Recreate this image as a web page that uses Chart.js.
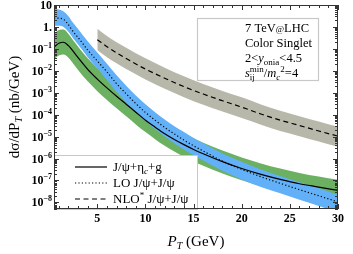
<!DOCTYPE html>
<html>
<head>
<meta charset="utf-8">
<script src="https://cdn.jsdelivr.net/npm/chart.js@4.4.1/dist/chart.umd.min.js"></script>
<style>
  html, body { margin: 0; padding: 0; background: #fff; overflow: hidden; }
  canvas { display: block; }
</style>
</head>
<body>
<canvas id="c" width="353" height="254"></canvas>
<script>
// P_T grid for the J/psi+eta_c+g and LO J/psi+J/psi curves
const ptLow = [0.5, 1, 1.5, 2, 2.5, 3, 4, 5, 6, 7, 8, 9, 10, 11, 12, 13, 14, 15, 16, 18, 20, 22, 24, 26, 28, 30];

// J/psi + eta_c + g (solid, green band)
const etacMid = [0.12, 0.18, 0.20, 0.14, 0.076, 0.040, 0.0117, 4.2e-3, 1.66e-3, 6.9e-4, 3.0e-4, 1.29e-4, 5.6e-5, 2.7e-5, 1.35e-5, 7.4e-6, 4.3e-6, 2.6e-6, 1.66e-6, 7.2e-7, 3.5e-7, 1.9e-7, 1.12e-7, 7.1e-8, 5.0e-8, 3.5e-8];
const etacUp  = [0.48, 0.72, 0.76, 0.47, 0.24, 0.126, 0.037, 0.0135, 5.5e-3, 2.3e-3, 1.0e-3, 4.3e-4, 1.86e-4, 8.9e-5, 4.5e-5, 2.4e-5, 1.38e-5, 8.3e-6, 5.2e-6, 2.3e-6, 1.12e-6, 6.0e-7, 3.5e-7, 2.2e-7, 1.5e-7, 1.07e-7];
const etacLow = [0.034, 0.050, 0.055, 0.039, 0.021, 0.011, 3.3e-3, 1.17e-3, 4.7e-4, 1.95e-4, 8.5e-5, 3.6e-5, 1.6e-5, 7.6e-6, 3.8e-6, 2.1e-6, 1.2e-6, 7.4e-7, 4.7e-7, 2.1e-7, 1.02e-7, 5.5e-8, 3.2e-8, 2.0e-8, 1.45e-8, 1.02e-8];

// LO J/psi + J/psi (dotted, blue band)
const loMid = [2.5, 2.5, 2.2, 1.26, 0.60, 0.33, 0.089, 0.028, 8.9e-3, 2.6e-3, 8.9e-4, 3.2e-4, 1.26e-4, 5.6e-5, 2.6e-5, 1.32e-5, 6.9e-6, 3.8e-6, 2.2e-6, 7.6e-7, 3.2e-7, 1.48e-7, 7.4e-8, 3.8e-8, 2.0e-8, 1.05e-8];
const loUp  = [6.8, 6.3, 5.0, 3.1, 1.5, 0.81, 0.22, 0.068, 0.021, 6.3e-3, 2.1e-3, 7.4e-4, 3.0e-4, 1.3e-4, 6.0e-5, 3.0e-5, 1.6e-5, 8.7e-6, 5.0e-6, 1.7e-6, 7.1e-7, 3.2e-7, 1.6e-7, 8.3e-8, 4.4e-8, 2.2e-8];
const loLow = [1.12, 1.12, 1.0, 0.60, 0.30, 0.158, 0.042, 0.0126, 3.8e-3, 1.07e-3, 3.6e-4, 1.26e-4, 5.0e-5, 2.2e-5, 1.02e-5, 5.0e-6, 2.6e-6, 1.41e-6, 8.1e-7, 2.8e-7, 1.12e-7, 5.1e-8, 2.6e-8, 1.32e-8, 6.9e-9, 3.5e-9];

// NLO* J/psi + J/psi (dashed, grey band), starts at P_T = 5
const ptNlo = [5, 6, 7, 8, 10, 12, 14, 16, 18, 20, 22, 24, 26, 28, 30];
const nloMid = [0.26, 0.126, 0.066, 0.036, 0.012, 4.6e-3, 1.9e-3, 8.7e-4, 4.3e-4, 2.2e-4, 1.07e-4, 5.6e-5, 3.2e-5, 1.8e-5, 1.05e-5];
const nloUp  = [0.83, 0.39, 0.20, 0.112, 0.037, 0.0138, 5.6e-3, 2.5e-3, 1.2e-3, 6.2e-4, 2.9e-4, 1.5e-4, 8.5e-5, 4.9e-5, 2.8e-5];
const nloLow = [0.087, 0.042, 0.022, 0.012, 4.0e-3, 1.5e-3, 6.2e-4, 2.8e-4, 1.38e-4, 7.1e-5, 3.5e-5, 1.8e-5, 1.05e-5, 5.9e-6, 3.4e-6];

// axis ticks
const xTicks = [5, 10, 15, 20, 25, 30];
const yTicks = [10, 1, 1e-1, 1e-2, 1e-3, 1e-4, 1e-5, 1e-6, 1e-7, 1e-8];
const yTickBase = ['10', '1.', '10', '10', '10', '10', '10', '10', '10', '10'];
const yTickExp = ['', '', '−1', '−2', '−3', '−4', '−5', '−6', '−7', '−8'];

const GREEN = 'rgb(108,176,98)';
const BLUE = 'rgb(98,176,248)';
const GREY = 'rgb(184,184,170)';
const SERIF = '"Liberation Serif", "Times New Roman", serif';
const DOTS = [1.2, 2.2];
const DASH = [5, 3.5];

const pts = (xs, ys) => xs.map((x, i) => ({ x: x, y: ys[i] }));

function band(xs, ys, order) {
  return { data: pts(xs, ys), borderWidth: 0, pointRadius: 0, fill: false, order: order,
           cubicInterpolationMode: 'monotone' };
}
function bandLow(xs, ys, target, color, order) {
  return { data: pts(xs, ys), borderWidth: 0, pointRadius: 0, fill: target,
           backgroundColor: color, order: order, cubicInterpolationMode: 'monotone' };
}
function curve(xs, ys, dash) {
  return { data: pts(xs, ys), borderColor: '#000', borderWidth: 1.2, borderDash: dash,
           pointRadius: 0, fill: false, order: 1, cubicInterpolationMode: 'monotone' };
}

// draw text pieces [text, font, dy] one after the other
function rich(ctx, x, y, parts, align) {
  let w = 0;
  parts.forEach(p => { ctx.font = p[1]; w += ctx.measureText(p[0]).width; });
  let cx = align === 'center' ? x - w / 2 : align === 'right' ? x - w : x;
  parts.forEach(p => {
    ctx.font = p[1];
    ctx.fillText(p[0], cx, y + (p[2] || 0));
    cx += ctx.measureText(p[0]).width;
  });
}

const decorations = {
  id: 'decorations',
  afterDatasetsDraw(chart) {
    const { ctx, chartArea: a, scales: { x, y } } = chart;
    ctx.save();
    ctx.textAlign = 'left';
    ctx.textBaseline = 'alphabetic';
    ctx.fillStyle = '#000';

    // legend box
    const lx0 = a.left, lx1 = 197, ly0 = 155, ly1 = a.bottom;
    ctx.fillStyle = '#fff';
    ctx.fillRect(lx0, ly0, lx1 - lx0, ly1 - ly0);
    ctx.strokeStyle = '#c8c8c8';
    ctx.lineWidth = 1;
    ctx.strokeRect(lx0 + 0.5, ly0 + 0.5, lx1 - lx0, ly1 - ly0);
    const rows = [167, 183, 199];
    const dashes = [[], DOTS, DASH];
    ctx.strokeStyle = '#000';
    ctx.lineWidth = 1.2;
    rows.forEach((ry, i) => {
      ctx.setLineDash(dashes[i]);
      ctx.beginPath(); ctx.moveTo(75, ry); ctx.lineTo(107, ry); ctx.stroke();
    });
    ctx.setLineDash([]);
    ctx.fillStyle = '#000';
    const f13 = '13px ' + SERIF, f9 = '9px ' + SERIF, fi9 = 'italic 9px ' + SERIF;
    rich(ctx, 113, rows[0] + 4, [['J/ψ+η', f13], ['c', fi9, 3], ['+g', f13]]);
    rich(ctx, 113, rows[1] + 4, [['LO J/ψ+J/ψ', f13]]);
    rich(ctx, 113, rows[2] + 4, [['NLO', f13], ['*', f9, -5], [' J/ψ+J/ψ', f13]]);

    // info box
    ctx.fillStyle = '#fff';
    ctx.fillRect(197, 18, 121, 62);
    ctx.strokeStyle = '#c8c8c8';
    ctx.strokeRect(197.5, 18.5, 121, 62);
    ctx.fillStyle = '#000';
    const f12 = '12.5px ' + SERIF, fi12 = 'italic 12.5px ' + SERIF;
    const tx = 245;
    rich(ctx, tx, 32, [['7 TeV', f12], ['@', '9px ' + SERIF], ['LHC', f12]]);
    rich(ctx, tx, 47, [['Color Singlet', f12]]);
    rich(ctx, tx, 62, [['2<', f12], ['y', fi12], ['onia', f9, 3], ['<4.5', f12]]);
    ctx.font = fi12;
    ctx.fillText('s', tx, 77);
    let sx = tx + ctx.measureText('s').width;
    ctx.font = f9;
    ctx.fillText('min', sx, 72);
    ctx.fillText('ij', sx, 80);
    sx += ctx.measureText('min').width;
    rich(ctx, sx, 77, [['/', f12], ['m', fi12], ['c', fi9, 3], ['2', f9, -5], ['=4', f12]]);

    // frame and inward ticks on all sides
    ctx.strokeStyle = '#333';
    ctx.lineWidth = 1;
    ctx.strokeRect(a.left + 0.5, a.top + 0.5, a.right - a.left - 1, a.bottom - a.top - 1);
    ctx.beginPath();
    for (let v = 1; v <= 30; v++) {
      const px = Math.round(x.getPixelForValue(v)) + 0.5;
      const len = v % 5 === 0 ? 5 : 3;
      ctx.moveTo(px, a.bottom); ctx.lineTo(px, a.bottom - len);
      ctx.moveTo(px, a.top); ctx.lineTo(px, a.top + len);
    }
    for (let e = -9; e <= 1; e++) {
      for (let m = 1; m <= 9; m++) {
        const v = m * Math.pow(10, e);
        if (v < y.min || v > y.max) continue;
        const py = Math.round(y.getPixelForValue(v)) + 0.5;
        const len = m === 1 ? 5 : 3;
        ctx.moveTo(a.left, py); ctx.lineTo(a.left + len, py);
        ctx.moveTo(a.right, py); ctx.lineTo(a.right - len, py);
      }
    }
    ctx.stroke();

    // y tick labels with raised exponents, placed by the log scale
    const fb12 = 'bold 12px ' + SERIF, fb8 = 'bold 8px ' + SERIF;
    yTicks.forEach((v, i) => {
      const py = y.getPixelForValue(v) + 4;
      const parts = [[yTickBase[i], fb12]];
      if (yTickExp[i]) parts.push([yTickExp[i], fb8, -5]);
      rich(ctx, a.left - 2, py, parts, 'right');
    });

    // axis titles
    const f15 = '15px ' + SERIF, fi15 = 'italic 15px ' + SERIF, fi10 = 'italic 10px ' + SERIF;
    rich(ctx, (a.left + a.right) / 2, 246, [['P', fi15], ['T', fi10, 3], [' (GeV)', f15]], 'center');
    ctx.translate(14, (a.top + a.bottom) / 2);
    ctx.rotate(-Math.PI / 2);
    rich(ctx, 0, 5, [['dσ/dP', f15], ['T', fi10, 3], [' (nb/GeV)', f15]], 'center');
    ctx.restore();
  }
};

new Chart(document.getElementById('c'), {
  type: 'line',
  data: {
    datasets: [
      band(ptLow, etacUp, 5),
      bandLow(ptLow, etacLow, 0, GREEN, 5),
      band(ptLow, loUp, 4),
      bandLow(ptLow, loLow, 2, BLUE, 4),
      band(ptNlo, nloUp, 4),
      bandLow(ptNlo, nloLow, 4, GREY, 4),
      curve(ptLow, etacMid, []),
      curve(ptLow, loMid, DOTS),
      curve(ptNlo, nloMid, DASH)
    ]
  },
  options: {
    responsive: false,
    animation: false,
    devicePixelRatio: 1,
    layout: { padding: { left: 0, right: 15, top: 5, bottom: 0 } },
    plugins: { legend: { display: false }, tooltip: { enabled: false } },
    scales: {
      x: {
        type: 'linear', min: 0.5, max: 30,
        afterBuildTicks: s => { s.ticks = xTicks.map(v => ({ value: v })); },
        afterFit: s => { s.height = 45; s.paddingLeft = 0; s.paddingRight = 0; },
        grid: { display: false, drawTicks: false },
        border: { display: false },
        ticks: { color: '#000', padding: 3, maxRotation: 0, autoSkip: false,
                 font: { family: SERIF, size: 12, weight: 'bold' } }
      },
      y: {
        type: 'logarithmic', min: 5e-9, max: 10,
        afterBuildTicks: s => { s.ticks = yTicks.map(v => ({ value: v })); },
        afterFit: s => { s.width = 54; s.paddingTop = 0; s.paddingBottom = 0; },
        grid: { display: false, drawTicks: false },
        border: { display: false },
        ticks: { display: false }
      }
    }
  },
  plugins: [decorations]
});
</script>
</body>
</html>
